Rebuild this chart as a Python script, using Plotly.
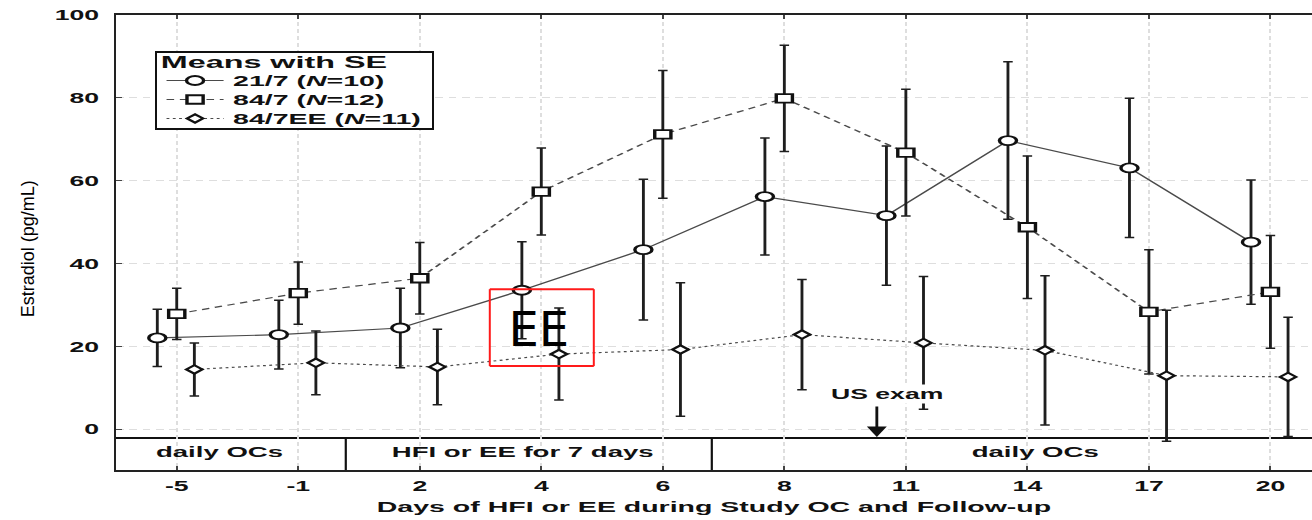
import plotly.graph_objects as go

# ---- data -------------------------------------------------------------
days = ["-5", "-1", "2", "4", "6", "8", "11", "14", "17", "20"]

mean_21_7 = [22.1, 22.9, 24.5, 33.6, 43.4, 56.2, 51.6, 69.7, 63.1, 45.2]
se_21_7 = [6.9, 8.3, 9.6, 11.7, 17.0, 14.1, 16.8, 19.0, 16.8, 15.0]

mean_84_7 = [27.9, 32.9, 36.5, 57.4, 71.2, 79.9, 66.8, 48.8, 28.4, 33.2]
se_84_7 = [6.2, 7.5, 8.6, 10.5, 15.4, 12.8, 15.3, 17.2, 15.0, 13.6]

mean_84_7ee = [14.5, 16.1, 15.1, 18.2, 19.3, 22.9, 20.9, 19.1, 13.0, 12.7]
se_84_7ee = [6.4, 7.7, 9.1, 11.1, 16.1, 13.3, 16.0, 18.0, 15.8, 14.4]

series_names = ["21/7 (<i>N</i>=10)", "84/7 (<i>N</i>=12)", "84/7EE (<i>N</i>=11)"]
y_ticks = [0, 20, 40, 60, 80, 100]

phase_labels = ["daily OCs", "HFI or EE for 7 days", "daily OCs"]

# ---- geometry ---------------------------------------------------------
# The chart is laid out on a narrow canvas and then widened horizontally.
W, H = 690, 520
SX = 1312 / W
ML, MT, MB = 116.25 / SX, 14.5, 50
X_RANGE = [-0.5, 9.342]
Y_RANGE = [-9.76, 100]


def xpaper(px):
    return (px / SX - ML) / (W - ML)


def ypaper(py):
    return (H - MB - py) / (H - MB - MT)


FONT = "Liberation Sans, Arial, sans-serif"
BAND_TOP = -2.05
phase_edges = [1.391, 4.403]
phase_centers = [0.346, 2.848, 7.062]

styles = [
    dict(off=-0.16, symbol="circle", size=9, dash="solid"),
    dict(off=0.0, symbol="square", size=8.5, dash="4px,3px"),
    dict(off=0.145, symbol="diamond", size=6.5, dash="1.5px,1.8px"),
]
series = [(mean_21_7, se_21_7), (mean_84_7, se_84_7), (mean_84_7ee, se_84_7ee)]

fig = go.Figure()
for name, (m, se), st in zip(series_names, series, styles):
    fig.add_trace(go.Scatter(
        x=[i + st["off"] for i in range(len(days))],
        y=m,
        name=name,
        mode="lines+markers",
        line=dict(color="#4a4a4a", width=1.2, dash=st["dash"]),
        marker=dict(symbol=st["symbol"], size=st["size"], color="white",
                    line=dict(color="#111111", width=1.8)),
        error_y=dict(type="data", array=se, visible=True, color="#1e1e1e",
                     thickness=1.5, width=2.5),
    ))

shapes = [
    # band under the plot with the study phases
    dict(type="rect", xref="paper", x0=0, x1=1, yref="y", y0=Y_RANGE[0], y1=BAND_TOP,
         fillcolor="white", line=dict(width=0), layer="below"),
    dict(type="line", xref="paper", x0=0, x1=1, yref="y", y0=BAND_TOP, y1=BAND_TOP,
         line=dict(color="#111111", width=2), layer="between"),
]
for xe in phase_edges:
    shapes.append(dict(type="line", xref="x", x0=xe, x1=xe, yref="y",
                       y0=Y_RANGE[0], y1=BAND_TOP,
                       line=dict(color="#111111", width=2.2 / SX), layer="between"))

# red highlight box
bx0, bx1, by0, by1 = 2.576, 3.432, 15.3, 33.86
shapes += [
    dict(type="line", x0=bx0, x1=bx1, y0=by1, y1=by1, line=dict(color="#ff1a1a", width=2), layer="above"),
    dict(type="line", x0=bx0, x1=bx1, y0=by0, y1=by0, line=dict(color="#ff1a1a", width=2), layer="above"),
    dict(type="line", x0=bx0, x1=bx0, y0=by0, y1=by1, line=dict(color="#ff1a1a", width=2 / SX), layer="above"),
    dict(type="line", x0=bx1, x1=bx1, y0=by0, y1=by1, line=dict(color="#ff1a1a", width=2 / SX), layer="above"),
]

annotations = []
for lab, xc in zip(phase_labels, phase_centers):
    annotations.append(dict(x=xc, y=-5.42, xref="x", yref="y", text=lab, showarrow=False,
                            font=dict(family=FONT, size=14.5, color="#111111", weight="bold")))
annotations += [
    dict(x=5.844, y=8.55, xref="x", yref="y", text="US exam", showarrow=False,
         bgcolor="white", borderpad=1,
         font=dict(family=FONT, size=14, color="#111111", weight="bold")),
    dict(x=5.761, y=-1.8, xref="x", yref="y", ax=5.761, ay=5.9, axref="x", ayref="y",
         text="", showarrow=True, arrowhead=2, arrowsize=1.4, arrowwidth=1.5,
         arrowcolor="#111111"),
    dict(x=2.988, y=24.2, xref="x", yref="y", text="EE", showarrow=False,
         font=dict(family="DejaVu Sans", size=48, color="black")),
    dict(x=xpaper(6), y=ypaper(249), xref="paper", yref="paper",
         text="Estradiol (pg/mL)", textangle=-90, showarrow=False,
         font=dict(family=FONT, size=18, color="#000000")),
]

fig.update_layout(
    width=W, height=H,
    margin=dict(l=ML, r=0, t=MT, b=MB),
    paper_bgcolor="white", plot_bgcolor="white",
    showlegend=True,
    legend=dict(
        x=xpaper(155), y=ypaper(51), xanchor="left", yanchor="top",
        bgcolor="white", bordercolor="#111111", borderwidth=1.2,
        title=dict(text="Means with SE",
                   font=dict(family=FONT, size=17, color="#111111", weight="bold")),
        font=dict(family=FONT, size=15, color="#111111", weight="bold"),
    ),
    xaxis=dict(
        range=X_RANGE, tickmode="array", tickvals=list(range(len(days))), ticktext=days,
        showgrid=True, gridcolor="#dedede", gridwidth=1, griddash="4px,3px",
        zeroline=False, showline=True, linecolor="#222222", linewidth=2, mirror="ticks",
        ticks="inside", ticklen=4, tickcolor="#444444", ticklabelstandoff=2,
        tickfont=dict(family=FONT, size=14, color="#111111", weight="bold"),
        title=dict(text="Days of HFI or EE during Study OC and Follow-up", standoff=9,
                   font=dict(family=FONT, size=15, color="#111111", weight="bold")),
    ),
    yaxis=dict(
        range=Y_RANGE, tickmode="array", tickvals=y_ticks,
        showgrid=True, gridcolor="#dedede", gridwidth=1, griddash="4px,3px",
        zeroline=False, showline=True, linecolor="#222222", linewidth=1.2,
        ticks="inside", ticklen=3, tickcolor="#444444", ticklabelstandoff=5,
        tickfont=dict(family=FONT, size=14, color="#111111", weight="bold"),
    ),
    shapes=shapes,
    annotations=annotations,
)

# widen the drawing horizontally; keep the two labels that must stay undistorted;
# tighten the legend rows
post_script = """
var gd = document.getElementById('{plot_id}');
var sx = __SX__;
document.documentElement.style.margin = '0';
document.body.style.margin = '0';
document.body.style.overflow = 'hidden';
gd.style.transformOrigin = '0 0';
gd.style.transform = 'scaleX(' + sx + ')';
gd.querySelectorAll('text.annotation-text').forEach(function (t) {
  var s = t.textContent;
  if (s === 'EE') {
    t.style.transformBox = 'fill-box';
    t.style.transformOrigin = 'center';
    t.style.transform = 'scaleX(' + (1 / sx) + ')';
  } else if (s.indexOf('Estradiol') === 0) {
    t.style.transformBox = 'fill-box';
    t.style.transformOrigin = 'center';
    t.style.transform = 'scaleY(' + (1 / sx) + ')';
  }
});
function moveTo(el, ref, target) {
  var r = ref.getBoundingClientRect();
  var d = target - (r.top + r.bottom) / 2;
  var old = el.getAttribute('transform') || '';
  el.setAttribute('transform', 'translate(0,' + d + ') ' + old);
}
var lg = gd.querySelector('g.legend');
if (lg) {
  var bg = lg.querySelector('rect.bg');
  var top = bg.getBoundingClientRect().top;
  var title = lg.querySelector('.legendtitletext');
  if (title) { moveTo(title, title, top + 10); }
  lg.querySelectorAll('g.traces').forEach(function (g, i) {
    var t = g.querySelector('text.legendtext') || g;
    moveTo(g, t, top + 29 + 19 * i);
  });
  bg.setAttribute('height', 77);
}
""".replace("__SX__", repr(SX))

fig.write_html("out.html", post_script=post_script, config={"displayModeBar": False})
